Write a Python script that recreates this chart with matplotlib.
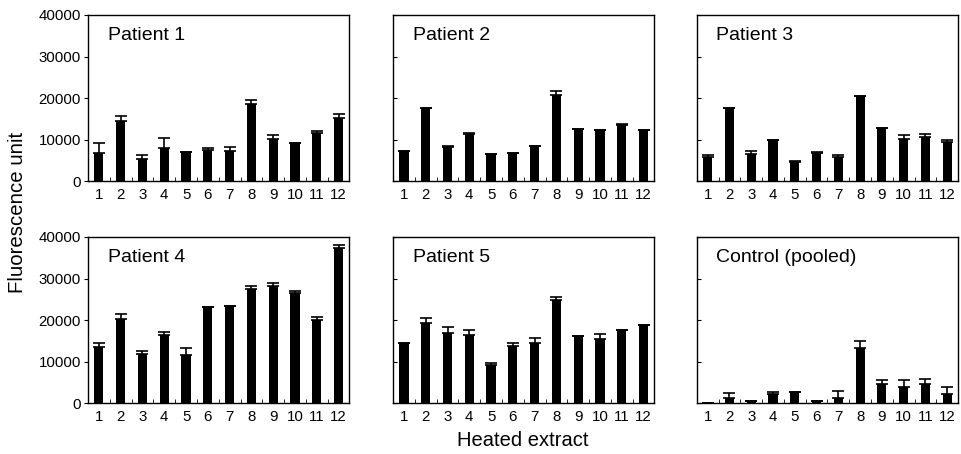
import numpy as np
import matplotlib.pyplot as plt
from matplotlib.ticker import MultipleLocator

plt.rcParams['font.family'] = ['Liberation Sans', 'DejaVu Sans']

extracts = list(range(1, 13))
titles = ["Patient 1", "Patient 2", "Patient 3",
          "Patient 4", "Patient 5", "Control (pooled)"]

# mean values (fluorescence unit)
patient1 = [6700, 14500, 5300, 8000, 7100, 7500, 7300, 18500, 10100, 9200, 11700, 15300]
patient2 = [7300, 17500, 8300, 11300, 6600, 6800, 8400, 20700, 12500, 12400, 13400, 12400]
patient3 = [5900, 17700, 6500, 10000, 4600, 6700, 5900, 20500, 12900, 10200, 10600, 9500]
patient4 = [13600, 20200, 11800, 16400, 11600, 23100, 23500, 27400, 28100, 26500, 19900, 37300]
patient5 = [14400, 19400, 17000, 16300, 9300, 13800, 14600, 24900, 16200, 15400, 17500, 18800]
control = [0, 1200, 500, 2200, 2800, 400, 1300, 13300, 4500, 3800, 4500, 2300]

# upper error (SD)
patient1_err = [2400, 1200, 1100, 2500, 0, 500, 800, 1100, 900, 0, 400, 800]
patient2_err = [0, 0, 200, 400, 0, 0, 0, 1100, 0, 0, 400, 0]
patient3_err = [500, 0, 800, 0, 300, 400, 300, 0, 0, 800, 700, 500]
patient4_err = [1000, 1300, 700, 800, 1700, 0, 0, 800, 800, 400, 900, 700]
patient5_err = [0, 1200, 1400, 1200, 400, 600, 1000, 700, 0, 1300, 0, 0]
control_err = [0, 1300, 0, 500, 0, 0, 1700, 1600, 1100, 1800, 1300, 1700]

means = [patient1, patient2, patient3, patient4, patient5, control]
errs = [patient1_err, patient2_err, patient3_err, patient4_err, patient5_err, control_err]

fig = plt.figure(figsize=(9.61, 4.54), dpi=100)
lefts = [0.0916, 0.409, 0.725]
bottoms = [0.601, 0.112]
w, h = 0.272, 0.366

for i, (title, vals, err) in enumerate(zip(titles, means, errs)):
    row, col = divmod(i, 3)
    ax = fig.add_axes([lefts[col], bottoms[row], w, h])
    ax.bar(extracts, vals, width=0.42, color='black')
    ax.errorbar(extracts, vals, yerr=[np.zeros(12), err], fmt='none',
                ecolor='black', elinewidth=1.2, capsize=4.5, capthick=1.2)
    ax.set_xlim(0.5, 12.5)
    ax.set_ylim(0, 40000)
    ax.set_xticks(extracts)
    ax.xaxis.set_minor_locator(MultipleLocator(1, offset=0.5))
    ax.yaxis.set_major_locator(MultipleLocator(10000))
    ax.tick_params(axis='x', which='major', length=0, labelsize=10.8, pad=5)
    ax.tick_params(axis='x', which='minor', direction='in', length=3)
    if col == 0:
        ax.tick_params(axis='y', direction='out', length=3, labelsize=10.8, pad=2)
    else:
        ax.tick_params(axis='y', direction='in', length=3)
        ax.set_yticklabels([])
    for s in ax.spines.values():
        s.set_linewidth(1.0)
    ax.text(0.075, 0.93, title, transform=ax.transAxes, fontsize=14,
            va='top', ha='left')

fig.text(0.018, 0.533, "Fluorescence unit", rotation=90, fontsize=14.7,
         va='center', ha='center')
fig.text(0.544, 0.029, "Heated extract", fontsize=14.5, ha='center', va='center')

fig.savefig("out.png", dpi=100)
